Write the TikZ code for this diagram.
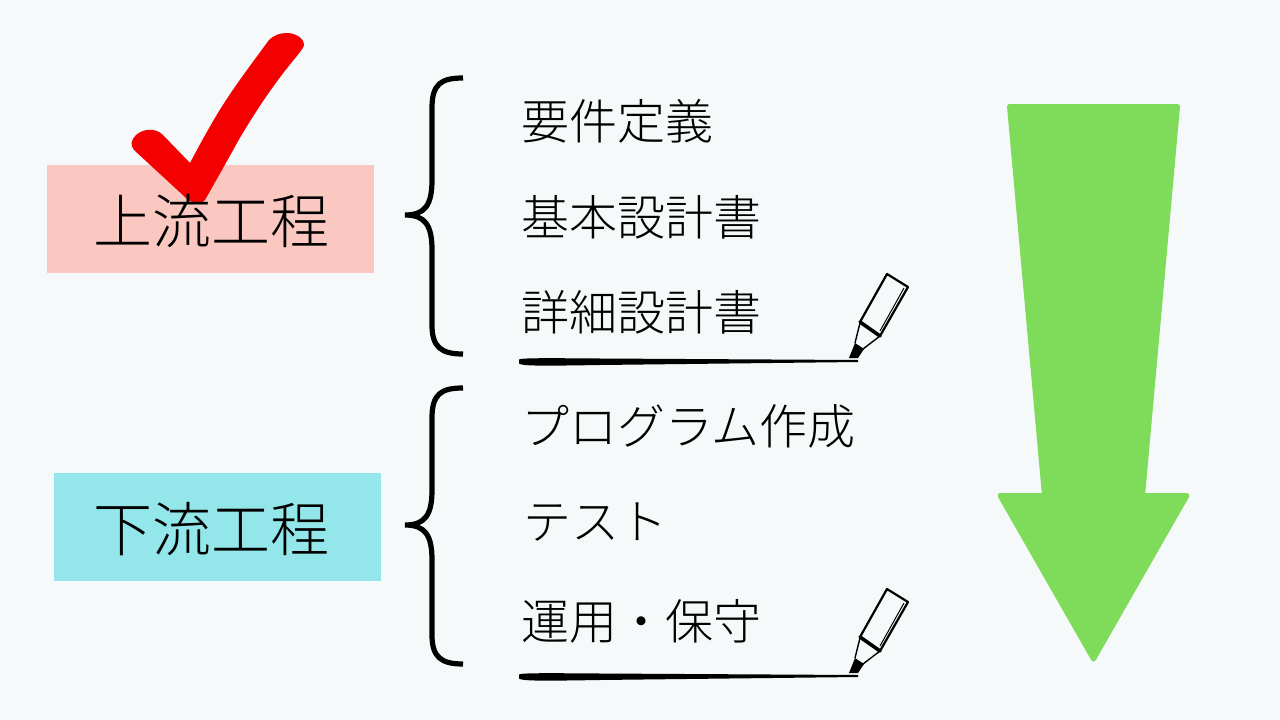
\documentclass[tikz,border=0pt]{standalone}
\usepackage{fontspec}
\newfontfamily\cjk{Noto Sans CJK JP Light}
\definecolor{bgc}{HTML}{F5F9FA}
\definecolor{redbox}{HTML}{FAC8C1}
\definecolor{cyanbox}{HTML}{93E6EA}
\definecolor{arrowg}{HTML}{7FDB5A}
\definecolor{checkr}{HTML}{F40000}
\tikzset{x=1pt,y=-1pt,
 lab/.style={font=\cjk\fontsize{59}{59}\selectfont,anchor=center,inner sep=0pt,text=black},
 item/.style={font=\cjk\fontsize{48}{48}\selectfont,anchor=west,inner sep=0pt,text=black},
 brace/.style={draw=black,line width=5.2pt,line join=bevel},
 penline/.style={draw=black,line width=2.2pt,line join=round,line cap=round},
 penthin/.style={draw=black,line width=1pt},
 pics/curly/.style={code={
   \draw[brace] (463,78) .. controls (441,78) and (432,84) .. (432,108)
     -- (432,180) .. controls (432,205) and (425,215) .. (405,215)
     .. controls (425,215) and (432,225) .. (432,250)
     -- (432,325) .. controls (432,347) and (441,354) .. (463,354);
 }},
 pics/marker/.style={code={
   \draw[penline,line width=2.2pt] (887,274) -- (908,287) -- (880,336) -- (860,322) -- cycle;
   \draw[penline,line width=3.6pt] (860,322) -- (880,336);
   \draw[penthin] (904,288) -- (880,331);
   \draw[penthin,line width=1.4pt] (860,323) -- (855,343);
   \draw[penthin,line width=1.4pt] (880,336) -- (863,349);
   \fill[black] (855,343) -- (864,349) -- (858,358) -- (849,358) -- cycle;
   \fill[black] (519,359.5) .. controls (522,358) and (540,358) .. (600,358.5)
     -- (858,360) -- (858,362) -- (600,365)
     .. controls (540,366) and (522,366) .. (519,363.5) -- cycle;
 }},
}
\begin{document}
\begin{tikzpicture}
\useasboundingbox (0,0) rectangle (1280,720);
\fill[bgc] (0,0) rectangle (1280,720);
\fill[redbox] (47,165) rectangle (374,273);
\fill[cyanbox] (54,473) rectangle (381,581);
% check mark
\fill[checkr] (287,33) .. controls (295,33) and (304,38) .. (304,45)
  .. controls (304,49) and (291,62) .. (278,80)
  .. controls (263,100) and (246,127) .. (237,143)
  .. controls (226,163) and (214,184) .. (205,200)
  .. controls (203,204) and (193,205) .. (186,198)
  -- (134,150) .. controls (130,145) and (131,140) .. (136,135)
  .. controls (143,129) and (155,127) .. (163,135)
  -- (190,163)
  .. controls (200,144) and (211,124) .. (221,108)
  .. controls (236,84) and (253,62) .. (269,40)
  .. controls (274,35) and (280,33) .. (287,33) -- cycle;
\node[lab] (a) at (211,221.5) {上流工程};
\node[lab] (b) at (211,529.5) {下流工程};
% braces
\pic {curly};
\begin{scope}[yshift=-310pt]
\pic {curly};
\end{scope}
% items
\node[item] (i1) at (521,121.5) {要件定義};
\node[item] (i2) at (521,217.5) {基本設計書};
\node[item] (i3) at (521,312.5) {詳細設計書};
\node[item] (i4) at (521,426.5) {プログラム作成};
\node[item] (i5) at (523,522.5) {テスト};
\node[item] (i6) at (521,621.5) {運用・保守};
% markers
\pic {marker};
\begin{scope}[yshift=-315pt]
\pic {marker};
\end{scope}
% arrow
\fill[arrowg,draw=arrowg,line width=5pt,line join=round]
  (1009.5,106.5) -- (1177.5,106.5) -- (1142.5,495.5) -- (1187,495.5)
  -- (1093.5,659) -- (1000,495.5) -- (1044.5,495.5) -- cycle;
\end{tikzpicture}
\end{document}
